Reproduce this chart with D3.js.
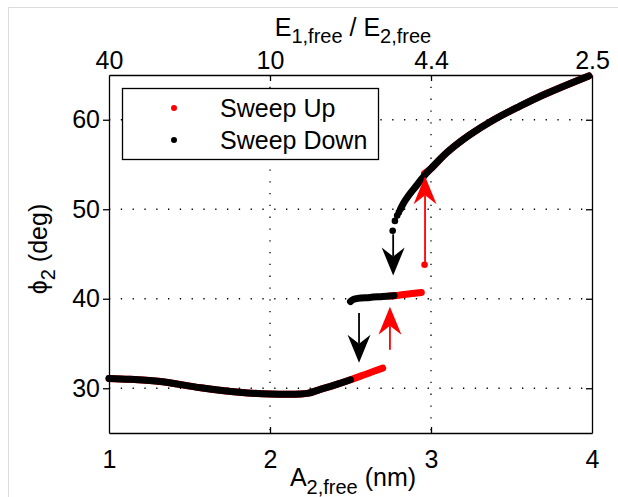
<!DOCTYPE html>
<html>
<head>
<meta charset="utf-8">
<script src="https://cdnjs.cloudflare.com/ajax/libs/d3/7.8.5/d3.min.js"></script>
<style>
  body { margin: 0; background: #fff; }
  svg text { font-family: "Liberation Sans", Arial, sans-serif; fill: #000; }
</style>
</head>
<body>
<div id="chart"></div>
<script>
// A2,free (nm) vs phi2 (deg)
var upLower = [[1.00, 31.1], [1.13, 31.0], [1.32, 30.75], [1.57, 30.05], [1.81, 29.55], [2.00, 29.35],
               [2.19, 29.35], [2.24, 29.45], [2.30, 29.8], [2.40, 30.35], [2.50, 30.95], [2.60, 31.6], [2.70, 32.25]];
var upMiddle = [[2.74, 40.3], [2.80, 40.4], [2.87, 40.55], [2.94, 40.7]];
var upJump = [[2.96, 43.8]];
var upUpper = [[2.96, 54.0], [3.00, 54.55], [3.10, 56.35], [3.24, 58.3], [3.39, 60.0], [3.55, 61.5],
               [3.70, 62.8], [3.98, 64.9]];

var downUpper = [[2.81, 50.0], [2.83, 50.7], [2.86, 51.5], [2.89, 52.2], [2.93, 53.1], [2.97, 54.0],
                 [3.00, 54.55], [3.10, 56.35], [3.24, 58.3], [3.39, 60.0], [3.55, 61.5], [3.70, 62.8], [3.98, 64.9]];
var downSparse = [[2.762, 47.6], [2.776, 48.7], [2.79, 49.3], [2.80, 49.65]];
var downMiddle = [[2.50, 39.7], [2.52, 39.95], [2.62, 40.15], [2.70, 40.25], [2.77, 40.35]];
var downLower = [[1.00, 31.1], [1.13, 31.0], [1.32, 30.75], [1.57, 30.05], [1.81, 29.55], [2.00, 29.35],
                 [2.19, 29.35], [2.24, 29.45], [2.30, 29.8], [2.40, 30.35], [2.50, 30.95]];

// arrows: [A, from phi, to phi]
var arrowsUp = [[2.745, 34.3, 39.1], [2.963, 43.8, 53.7]];
var arrowsDown = [[2.765, 47.2, 42.6], [2.553, 38.4, 32.85]];

var xTicks = [1, 2, 3, 4];
var topTickLabels = ["40", "10", "4.4", "2.5"];
var yTicks = [30, 40, 50, 60];

var W = 618, H = 497;
var margin = {top: 75, right: 26, bottom: 64, left: 109},
    width = W - margin.left - margin.right,
    height = H - margin.top - margin.bottom;

var root = d3.select("#chart").append("svg")
  .attr("width", W)
  .attr("height", H);

// faint figure frame
root.append("path")
  .attr("d", "M8.5,497V7.5H618")
  .style("fill", "none")
  .style("stroke", "#dcdcdc");

var svg = root.append("g")
  .attr("transform", "translate(" + margin.left + "," + margin.top + ")");

var x = d3.scaleLinear().domain([1, 4]).range([0, width]);
var y = d3.scaleLinear().domain([25, 65]).range([height, 0]);

// dotted grid
svg.selectAll(".gx").data([2, 3])
  .enter().append("line")
  .attr("class", "gx")
  .attr("x1", function(d) {return x(d);})
  .attr("x2", function(d) {return x(d);})
  .attr("y1", 0).attr("y2", height);
svg.selectAll(".gy").data(yTicks)
  .enter().append("line")
  .attr("class", "gy")
  .attr("x1", 0).attr("x2", width)
  .attr("y1", function(d) {return y(d);})
  .attr("y2", function(d) {return y(d);});
svg.selectAll(".gx, .gy")
  .style("stroke", "#000")
  .style("stroke-width", 1.3)
  .style("stroke-dasharray", "1.3,10.5");

// axes
var fmt = function(d) {return d;};
svg.append("g")
  .attr("class", "axis axis-x")
  .attr("transform", "translate(0," + height + ")")
  .call(d3.axisBottom(x).tickValues(xTicks).tickFormat(fmt).tickSizeInner(-6).tickSizeOuter(0).tickPadding(17));
svg.append("g")
  .attr("class", "axis axis-top")
  .call(d3.axisTop(x).tickValues(xTicks)
    .tickFormat(function(d, i) {return topTickLabels[i];})
    .tickSizeInner(-6).tickSizeOuter(0).tickPadding(6));
svg.append("g")
  .attr("class", "axis axis-y")
  .call(d3.axisLeft(y).tickValues(yTicks).tickFormat(fmt).tickSizeInner(6).tickSizeOuter(0).tickPadding(3));
svg.append("g")
  .attr("class", "axis axis-right")
  .attr("transform", "translate(" + width + ",0)")
  .call(d3.axisRight(y).tickValues(yTicks).tickFormat("").tickSizeInner(-6).tickSizeOuter(0));

svg.selectAll(".axis path, .axis line").style("stroke", "#000").style("stroke-width", 1.3);
svg.selectAll(".axis text").style("font-size", "25px").style("font-family", "Liberation Sans, Arial, sans-serif");
svg.selectAll(".axis-x .tick, .axis-top .tick").filter(function(d) {return d == 1 || d == 4;})
  .select("line").remove();

// data
var line = d3.line()
  .x(function(d) {return x(d[0]);})
  .y(function(d) {return y(d[1]);})
  .curve(d3.curveCatmullRom);

function drawBranch(data, color) {
  svg.append("path")
    .datum(data)
    .attr("d", line)
    .style("fill", "none")
    .style("stroke", color)
    .style("stroke-width", 7)
    .style("stroke-linecap", "round")
    .style("stroke-linejoin", "round");
}
function drawDots(data, color) {
  svg.append("g").selectAll("circle").data(data)
    .enter().append("circle")
    .attr("cx", function(d) {return x(d[0]);})
    .attr("cy", function(d) {return y(d[1]);})
    .attr("r", 3.3)
    .style("fill", color);
}

drawBranch(upLower, "#ff0000");
drawBranch(upMiddle, "#ff0000");
drawBranch(upUpper, "#ff0000");
drawDots(upJump, "#ff0000");

drawBranch(downLower, "#000");
drawBranch(downMiddle, "#000");
drawBranch(downUpper, "#000");
drawDots(downSparse, "#000");

// annotation arrows
function drawArrow(a, color) {
  var px = x(a[0]), y0 = y(a[1]), y1 = y(a[2]);
  var dir = y1 < y0 ? -1 : 1;   // -1 = pointing up
  var L = 28, hw = 11.5, notch = 19;
  svg.append("line")
    .attr("x1", px).attr("x2", px)
    .attr("y1", y0).attr("y2", y1 - dir * notch)
    .style("stroke", color)
    .style("stroke-width", 1.8);
  svg.append("path")
    .attr("d", "M" + px + "," + y1 +
      "L" + (px - hw) + "," + (y1 - dir * L) +
      "L" + px + "," + (y1 - dir * notch) +
      "L" + (px + hw) + "," + (y1 - dir * L) + "Z")
    .style("fill", color);
}
arrowsUp.forEach(function(a) {drawArrow(a, "#ff0000");});
arrowsDown.forEach(function(a) {drawArrow(a, "#000");});

// legend
var leg = svg.append("g").attr("transform", "translate(" + (122 - margin.left) + "," + (88 - margin.top) + ")");
leg.append("rect")
  .attr("x", 0.5).attr("y", 0.5)
  .attr("width", 256).attr("height", 71)
  .style("fill", "#fff")
  .style("stroke", "#000")
  .style("stroke-width", 1.3);
var legItems = [{k: "Sweep Up", c: "#ff0000"}, {k: "Sweep Down", c: "#000"}];
leg.selectAll(".ldot").data(legItems)
  .enter().append("circle")
  .attr("cx", 52)
  .attr("cy", function(d, i) {return 20 + i * 32;})
  .attr("r", 3)
  .style("fill", function(d) {return d.c;});
leg.selectAll(".ltxt").data(legItems)
  .enter().append("text")
  .attr("x", 98)
  .attr("y", function(d, i) {return 29 + i * 32;})
  .style("font-size", "25px")
  .text(function(d) {return d.k;});

// axis titles
var xt = root.append("text")
  .attr("x", 353).attr("y", 486)
  .attr("text-anchor", "middle")
  .style("font-size", "25px");
xt.append("tspan").text("A");
xt.append("tspan").attr("dy", 8).style("font-size", "20px").text("2,free");
xt.append("tspan").attr("dy", -8).text(" (nm)");

var tt = root.append("text")
  .attr("x", 353).attr("y", 36)
  .attr("text-anchor", "middle")
  .style("font-size", "25px");
tt.append("tspan").text("E");
tt.append("tspan").attr("dy", 7).style("font-size", "20px").text("1,free");
tt.append("tspan").attr("dy", -7).text(" / E");
tt.append("tspan").attr("dy", 7).style("font-size", "20px").text("2,free");

var yt = root.append("text")
  .attr("transform", "translate(47,249) rotate(-90)")
  .attr("text-anchor", "middle")
  .style("font-size", "25px");
yt.append("tspan").text("\u03d5");
yt.append("tspan").attr("dy", 8).style("font-size", "20px").text("2");
yt.append("tspan").attr("dy", -8).text(" (deg)");
</script>
</body>
</html>
